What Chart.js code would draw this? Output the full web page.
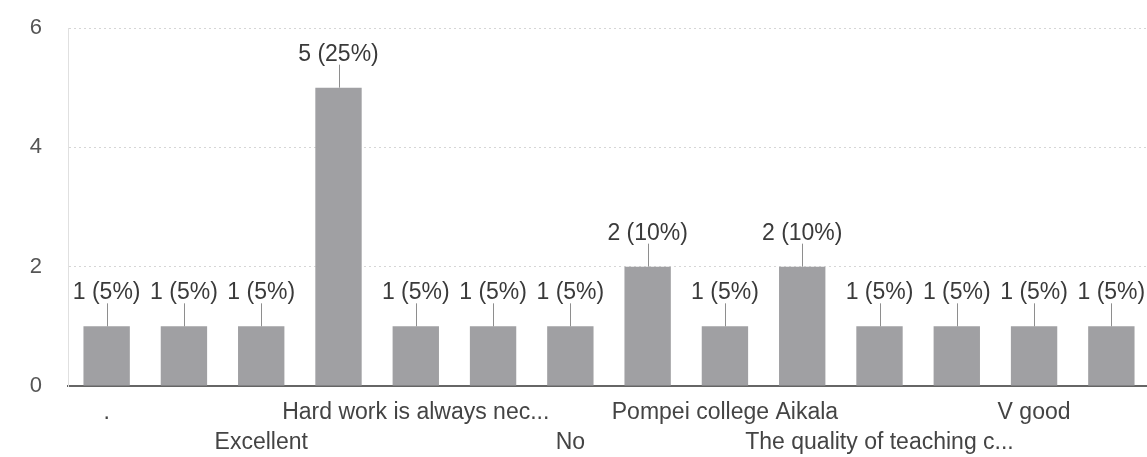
<!DOCTYPE html>
<html>
<head>
<meta charset="utf-8">
<script src="https://cdn.jsdelivr.net/npm/chart.js@4"></script>
<style>
  html, body { margin: 0; padding: 0; background: #fff; overflow: hidden; }
  #wrap { position: absolute; left: 0; top: 0; width: 1150px; height: 457px; }
</style>
</head>
<body>
<div id="wrap"><canvas id="responses"></canvas></div>
<script>
// Responses per answer (labels that Google hid are left empty)
const categories = ['.', '', 'Excellent', '', 'Hard work is always nec...', '', 'No', '',
  'Pompei college Aikala', '', 'The quality of teaching c...', '', 'V good', ''];
const counts = [1, 1, 1, 5, 1, 1, 1, 2, 1, 2, 1, 1, 1, 1];
const percents = [5, 5, 5, 25, 5, 5, 5, 10, 5, 10, 5, 5, 5, 5];
const yTicks = [0, 2, 4, 6];

const FONT = 'Arial, "Liberation Sans", sans-serif';

// "n (p%)" label with a small leader line over each bar
const barLabels = {
  id: 'barLabels',
  afterDatasetsDraw(chart) {
    const ctx = chart.ctx;
    const meta = chart.getDatasetMeta(0);
    ctx.save();
    meta.data.forEach((bar, i) => {
      const x = Math.round(bar.x) + 0.5;
      ctx.strokeStyle = '#8e8e8e';
      ctx.lineWidth = 1;
      ctx.beginPath();
      ctx.moveTo(x, bar.y);
      ctx.lineTo(x, bar.y - 23);
      ctx.stroke();
      ctx.fillStyle = '#3a3a3a';
      ctx.font = '23px ' + FONT;
      ctx.textAlign = 'center';
      ctx.textBaseline = 'alphabetic';
      ctx.fillText(counts[i] + ' (' + percents[i] + '%)', bar.x, bar.y - 27);
    });
    ctx.restore();
  }
};

new Chart(document.getElementById('responses'), {
  type: 'bar',
  data: {
    labels: categories,
    datasets: [{
      data: counts,
      backgroundColor: '#a0a0a3',
      borderWidth: 0,
      barPercentage: 0.6,
      categoryPercentage: 1
    }]
  },
  options: {
    responsive: true,
    maintainAspectRatio: false,
    animation: false,
    layout: { padding: { top: 28, right: 0, bottom: 0, left: 0 } },
    plugins: {
      legend: { display: false },
      tooltip: { enabled: false }
    },
    scales: {
      x: {
        offset: true,
        grid: { display: false, drawTicks: false },
        border: { display: true, color: '#666', width: 2 },
        ticks: {
          autoSkip: false,
          maxRotation: 0,
          padding: 12,
          color: '#444',
          font: { family: FONT, size: 23, lineHeight: 1.3 },
          // staggered two-row labels, every second category shown
          callback: function(value, index) {
            const label = categories[index];
            if (index % 4 === 0) return [label, ''];
            if (index % 4 === 2) return ['', label];
            return '';
          }
        },
        afterFit: function(scale) { scale.height = 71; }
      },
      y: {
        min: 0,
        max: 6,
        afterBuildTicks: function(scale) {
          scale.ticks = yTicks.map(v => ({ value: v }));
        },
        grid: {
          drawTicks: true,
          tickLength: 26,
          tickColor: 'rgba(0,0,0,0)',
          color: ctx => ctx.tick && ctx.tick.value === 0 ? 'rgba(0,0,0,0)' : '#d6d6d6',
          lineWidth: 1
        },
        border: { display: true, color: '#e0e0e0', dash: [2, 3] },
        ticks: {
          padding: 0,
          color: '#555',
          font: { family: FONT, size: 22 }
        },
        afterFit: function(scale) { scale.width = 68; }
      }
    }
  },
  plugins: [barLabels]
});
</script>
</body>
</html>
